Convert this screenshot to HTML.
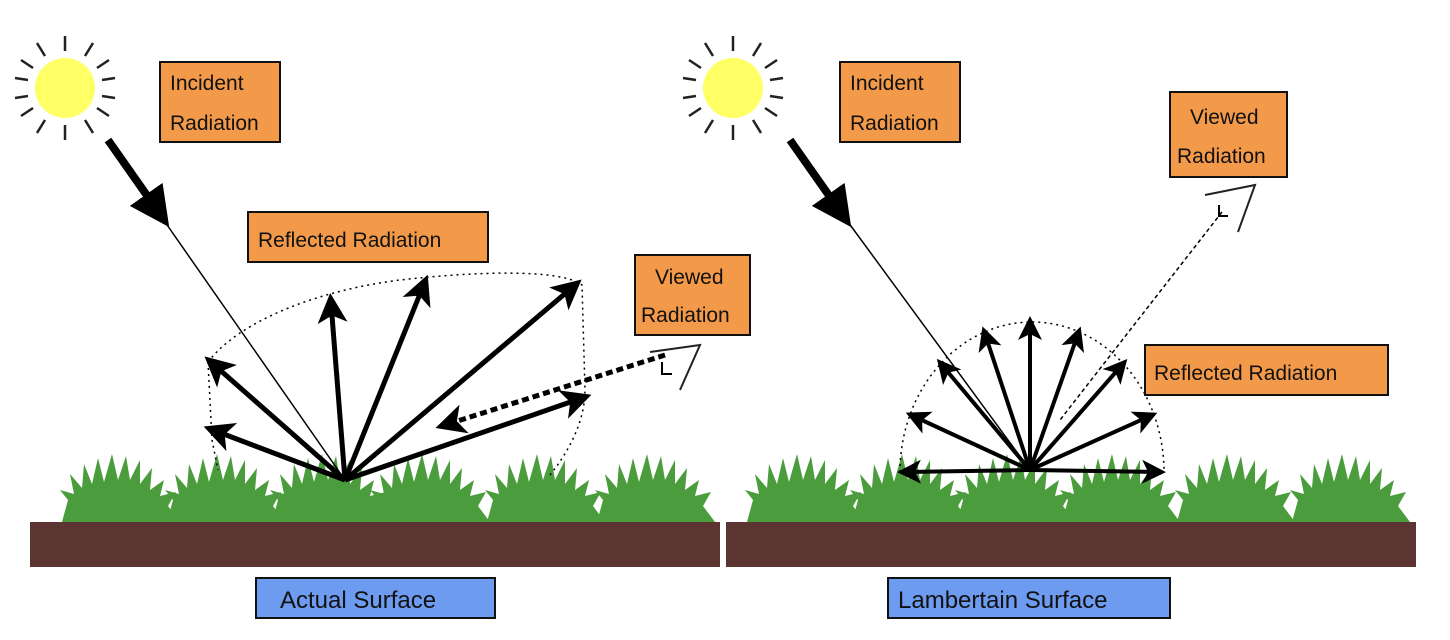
<!DOCTYPE html>
<html><head><meta charset="utf-8"><style>
body{margin:0;background:#fff;width:1450px;height:640px;overflow:hidden}
svg{display:block}
text{font-family:"Liberation Sans",sans-serif;font-size:21px;fill:#111}
.box{fill:#f29a4a;stroke:#111;stroke-width:2}
.bbox{fill:#6c9bf0;stroke:#111;stroke-width:2}
.ar{stroke:#000;stroke-width:5;fill:none;marker-end:url(#ah)}
.ar2{stroke:#000;stroke-width:4;fill:none;marker-end:url(#ah)}
.dot{stroke:#000;stroke-width:1.5;fill:none;stroke-dasharray:2 4}
</style></head><body>
<svg width="1450" height="640" viewBox="0 0 1450 640">
<defs>
<marker id="ah" markerWidth="6" markerHeight="6" refX="4" refY="3" orient="auto" markerUnits="strokeWidth"><path d="M0,0 L6,3 L0,6 L1.5,3 z" fill="#000"/></marker>
<marker id="ahb" markerWidth="5" markerHeight="5" refX="3" refY="2.5" orient="auto"><path d="M0,0 L5,2.5 L0,5 z" fill="#000"/></marker>
<g id="tuft"><path fill="#4a9c3c" d="M-58,62 L-52,40 L-60,30 L-46,34 L-50,14 L-38,28 L-36,4 L-28,24 L-22,-2 L-16,22 L-8,-6 L-2,20 L6,-4 L10,20 L20,0 L20,24 L32,8 L30,30 L44,20 L40,36 L56,32 L48,46 L60,62 Z"/></g>
<g id="sun">
<circle r="30" fill="#ffff66"/>
<g stroke="#222" stroke-width="2.5">
<line x1="0" y1="-37" x2="0" y2="-52"/><line x1="0" y1="37" x2="0" y2="52"/>
<line x1="-37" y1="-8" x2="-50" y2="-10"/><line x1="-37" y1="8" x2="-50" y2="10"/>
<line x1="37" y1="-8" x2="50" y2="-10"/><line x1="37" y1="8" x2="50" y2="10"/>
<line x1="-20" y1="-32" x2="-28" y2="-45"/><line x1="20" y1="-32" x2="28" y2="-45"/>
<line x1="-20" y1="32" x2="-28" y2="45"/><line x1="20" y1="32" x2="28" y2="45"/>
<line x1="-32" y1="-20" x2="-44" y2="-28"/><line x1="32" y1="-20" x2="44" y2="-28"/>
<line x1="-32" y1="20" x2="-44" y2="28"/><line x1="32" y1="20" x2="44" y2="28"/>
</g></g>
</defs>

<rect x="30" y="522" width="690" height="45" fill="#5c3533"/>
<rect x="726" y="522" width="690" height="45" fill="#5c3533"/>
<g>
<use href="#tuft" x="120" y="460"/><use href="#tuft" x="225" y="460"/><use href="#tuft" x="330" y="460"/><use href="#tuft" x="430" y="460"/><use href="#tuft" x="545" y="460"/><use href="#tuft" x="655" y="460"/>
<use href="#tuft" x="805" y="460"/><use href="#tuft" x="910" y="460"/><use href="#tuft" x="1015" y="460"/><use href="#tuft" x="1120" y="460"/><use href="#tuft" x="1235" y="460"/><use href="#tuft" x="1350" y="460"/>
</g>

<use href="#sun" x="65" y="88"/>
<rect class="box" x="160" y="62" width="120" height="80"/>
<text x="170" y="90">Incident</text><text x="170" y="130">Radiation</text>
<line x1="108" y1="140" x2="160" y2="214" stroke="#000" stroke-width="8" marker-end="url(#ahb)"/>
<line x1="165" y1="222" x2="345" y2="480" stroke="#000" stroke-width="1.5"/>
<rect class="box" x="248" y="212" width="240" height="50"/>
<text x="258" y="247">Reflected Radiation</text>
<rect class="box" x="635" y="255" width="115" height="80"/>
<text x="655" y="284">Viewed</text><text x="641" y="322">Radiation</text>
<path class="dot" d="M208,362 C240,320 320,290 400,280 C470,272 560,268 582,285 L585,390 C585,420 570,450 550,475"/>
<path class="dot" d="M208,362 L212,440 L218,470"/>
<line class="ar" x1="345" y1="480" x2="212" y2="363"/>
<line class="ar" x1="345" y1="480" x2="213" y2="430"/>
<line class="ar" x1="345" y1="480" x2="331" y2="303"/>
<line class="ar" x1="345" y1="480" x2="424" y2="284"/>
<line class="ar" x1="345" y1="480" x2="574" y2="286"/>
<line class="ar" x1="345" y1="480" x2="582" y2="398"/>
<line x1="665" y1="355" x2="445" y2="425" stroke="#000" stroke-width="5" stroke-dasharray="7 4" marker-end="url(#ah)"/>
<path d="M650,352 L700,345 L680,390" fill="none" stroke="#222" stroke-width="2"/>
<path d="M662,362 L662,374 L672,374" fill="none" stroke="#000" stroke-width="2"/>
<rect class="bbox" x="256" y="578" width="239" height="40"/>
<text x="280" y="608" style="font-size:24px">Actual Surface</text>

<use href="#sun" x="733" y="88"/>
<rect class="box" x="840" y="62" width="120" height="80"/>
<text x="850" y="90">Incident</text><text x="850" y="130">Radiation</text>
<line x1="790" y1="140" x2="842" y2="214" stroke="#000" stroke-width="8" marker-end="url(#ahb)"/>
<line x1="848" y1="222" x2="1030" y2="470" stroke="#000" stroke-width="1.5"/>
<rect class="box" x="1170" y="92" width="117" height="85"/>
<text x="1190" y="124">Viewed</text><text x="1177" y="163">Radiation</text>
<path d="M1205,195 L1255,185 L1238,232" fill="none" stroke="#222" stroke-width="2"/>
<path d="M1219,205 L1219,216 L1228,216" fill="none" stroke="#000" stroke-width="2"/>
<line x1="1222" y1="212" x2="1060" y2="420" stroke="#000" stroke-width="1.5" stroke-dasharray="4 3"/>
<path class="dot" d="M900,472 A132,150 0 0 1 1164,472"/>
<rect class="box" x="1145" y="345" width="243" height="50"/>
<text x="1154" y="380">Reflected Radiation</text>
<g>
<line class="ar2" x1="1030" y1="470" x2="905" y2="472"/>
<line class="ar2" x1="1030" y1="470" x2="1158" y2="472"/>
<line class="ar2" x1="1030" y1="470" x2="913" y2="416"/>
<line class="ar2" x1="1030" y1="470" x2="1150" y2="416"/>
<line class="ar2" x1="1030" y1="470" x2="942" y2="365"/>
<line class="ar2" x1="1030" y1="470" x2="1122" y2="365"/>
<line class="ar2" x1="1030" y1="470" x2="985" y2="334"/>
<line class="ar2" x1="1030" y1="470" x2="1078" y2="334"/>
<line class="ar2" x1="1030" y1="470" x2="1030" y2="324"/>
</g>
<rect class="bbox" x="888" y="578" width="282" height="40"/>
<text x="898" y="608" style="font-size:24px">Lambertain Surface</text>
</svg>
</body></html>
